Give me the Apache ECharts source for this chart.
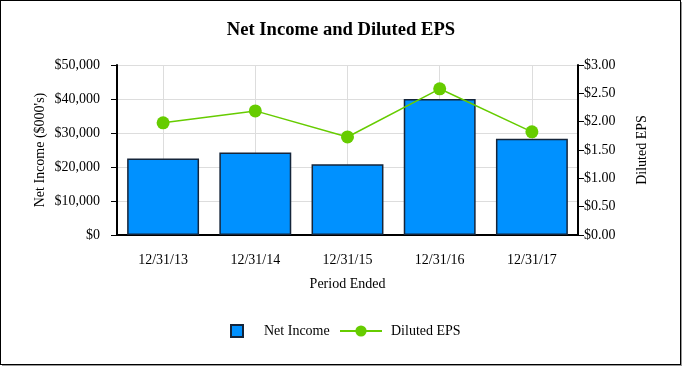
<!DOCTYPE html>
<html><head><meta charset="utf-8">
<script src="https://cdn.jsdelivr.net/npm/echarts@6/dist/echarts.min.js"></script>
<style>
html,body{margin:0;padding:0;background:#fff;}
#frame{position:absolute;left:0;top:0;width:679px;height:363px;border:1px solid #000;box-shadow:2px 2px 0 #999;}
#c{position:absolute;left:0;top:0;width:682px;height:366px;}
</style></head>
<body><div id="frame"></div><div id="c"></div>
<script>
const categories = ['12/31/13','12/31/14','12/31/15','12/31/16','12/31/17'];
const netIncome = [22500, 24300, 20800, 40000, 28300];
const dilutedEPS = [1.98, 2.19, 1.73, 2.58, 1.82];

const font = 'Liberation Serif, Times New Roman, serif';
const chart = echarts.init(document.getElementById('c'));
chart.setOption({
  animation:false,
  title:{text:'Net Income and Diluted EPS',left:'center',top:16,textStyle:{fontFamily:font,fontWeight:'bold',fontSize:18.6,color:'#000'}},
  legend:[
    {data:['Net Income'],left:225,top:319,itemWidth:12,itemHeight:12,icon:'rect',textStyle:{fontFamily:font,fontSize:14,color:'#000',padding:[0,0,0,16]}},
    {data:['Diluted EPS'],left:334,top:319,itemWidth:42,itemHeight:14,textStyle:{fontFamily:font,fontSize:14,color:'#000',padding:[0,0,0,4]}}
  ],
  grid:{left:117,right:104,top:65,bottom:131,containLabel:false},
  xAxis:{type:'category',data:categories,name:'Period Ended',nameLocation:'middle',nameGap:42,nameMoveOverlap:false,
    nameTextStyle:{fontFamily:font,fontSize:14,color:'#000'},
    axisLine:{lineStyle:{color:'#000',width:2}},
    axisTick:{alignWithLabel:true,length:5,lineStyle:{color:'#000'}},
    axisLabel:{fontFamily:font,fontSize:14,color:'#000',margin:18},
    splitLine:{show:true,alignWithLabel:true,lineStyle:{color:'#ddd'}}},
  yAxis:[
    {type:'value',min:0,max:50000,interval:10000,name:"Net Income ($000's)",nameLocation:'middle',nameGap:70,nameRotate:90,nameMoveOverlap:false,
     nameTextStyle:{fontFamily:font,fontSize:14,color:'#000'},
     axisLine:{show:true,lineStyle:{color:'#000',width:2}},
     axisTick:{show:true,length:6,lineStyle:{color:'#000'}},
     axisLabel:{fontFamily:font,fontSize:14,color:'#000',margin:17,formatter:v=>'$'+v.toLocaleString('en-US')},
     splitLine:{lineStyle:{color:'#ddd'}}},
    {type:'value',min:0,max:3,interval:0.5,name:'Diluted EPS',nameLocation:'middle',nameGap:57,nameRotate:90,nameMoveOverlap:false,
     nameTextStyle:{fontFamily:font,fontSize:14,color:'#000'},
     axisLine:{show:true,lineStyle:{color:'#000',width:2}},
     axisTick:{show:true,length:6,lineStyle:{color:'#000'}},
     axisLabel:{fontFamily:font,fontSize:14,color:'#000',margin:6,formatter:v=>'$'+v.toFixed(2)},
     splitLine:{show:false}}
  ],
  series:[
    {name:'Net Income',type:'bar',data:netIncome,barWidth:'78%',itemStyle:{color:'#0091FF',borderColor:'#15253a',borderWidth:1.5}},
    {name:'Diluted EPS',type:'line',yAxisIndex:1,data:dilutedEPS,symbol:'circle',symbolSize:13,
     lineStyle:{color:'#66CC00',width:1.5},itemStyle:{color:'#66CC00'}}
  ]
});
</script></body></html>
